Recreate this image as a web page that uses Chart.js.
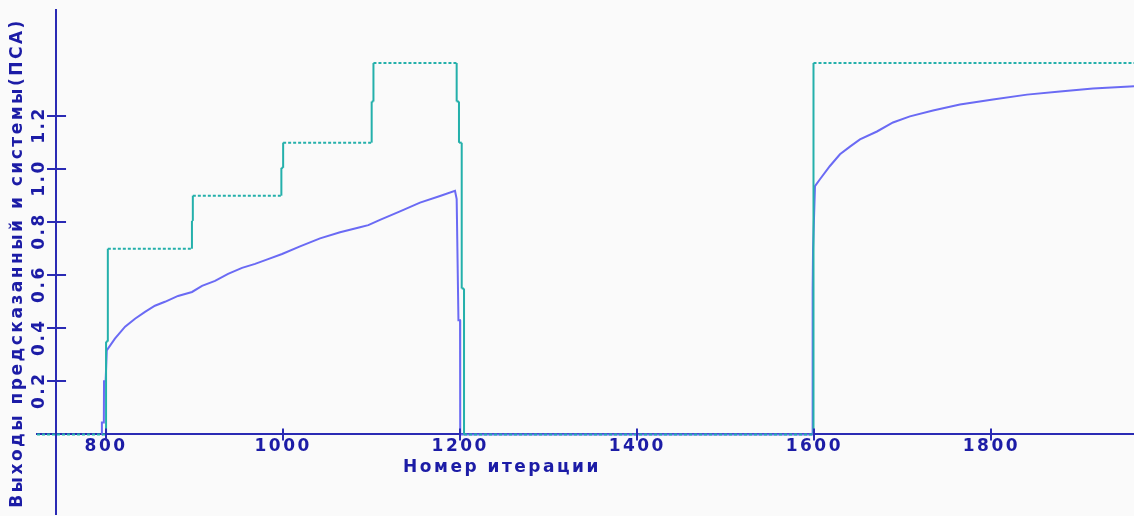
<!DOCTYPE html>
<html>
<head>
<meta charset="utf-8">
<script src="https://cdn.jsdelivr.net/npm/chart.js@4.4.0/dist/chart.umd.min.js"></script>
<style>
html, body { margin: 0; padding: 0; background: #fafafa; }
#wrap { width: 1134px; height: 516px; }
</style>
</head>
<body>
<div id="wrap"><canvas id="chart"></canvas></div>
<script>
// scale ranges
const xMin = 722, xMax = 1961;
const yMin = -0.3, yMax = 1.6;
const yAxisAt = 743.5;
const xTicks = [800, 1000, 1200, 1400, 1600, 1800];
const yTicks = [0.2, 0.4, 0.6, 0.8, 1.0, 1.2];

// выход системы (ПСА) - ступеньки
const targetX = [722, 800, 800, 802, 802, 897, 897, 898, 898, 998, 998, 1000, 1000, 1100, 1100, 1102, 1102,
  1196, 1196, 1198.6, 1198.6, 1201.7, 1201.7, 1204.3, 1204.3, 1599, 1599, 1961];
const targetY = [0, 0, 0.35, 0.35, 0.70, 0.70, 0.805, 0.805, 0.90, 0.90, 1.005, 1.005, 1.10, 1.10, 1.255, 1.255, 1.40,
  1.40, 1.255, 1.255, 1.10, 1.10, 0.55, 0.55, 0, 0, 1.40, 1.40];

// предсказанный выход
const predX = [795, 795.3, 797.5, 797.7, 799.5, 800.8, 810, 821.5, 832.7, 844, 855.2, 866.5, 881.3, 897.1, 908.4,
  923.1, 937.8, 953.6, 968.3, 983, 998.8, 1019.1, 1041.7, 1064.3, 1086.8, 1096.2, 1109.4, 1132, 1154.6, 1177.2,
  1194.1, 1196, 1198, 1199.8, 1200, 1597.5, 1597.8, 1598.3, 1598.5, 1600.7, 1606.3, 1617.6, 1628.9, 1640.2, 1651.5,
  1670.7, 1688.8, 1707.9, 1734, 1764.4, 1801.7, 1840.1, 1877.4, 1914.6, 1956.4, 1961];
const predY = [0, 0.045, 0.045, 0.20, 0.20, 0.317, 0.361, 0.406, 0.436, 0.462, 0.485, 0.500, 0.522, 0.537, 0.560,
  0.579, 0.605, 0.628, 0.643, 0.661, 0.680, 0.709, 0.739, 0.762, 0.781, 0.789, 0.809, 0.841, 0.874, 0.899,
  0.918, 0.887, 0.43, 0.43, 0, 0, 0.075, 0.54, 0.70, 0.936, 0.962, 1.012, 1.056, 1.085, 1.112,
  1.142, 1.176, 1.199, 1.221, 1.244, 1.263, 1.281, 1.293, 1.304, 1.312, 1.313];

const textColor = '#1c1ca6';
const axisColor = '#2a2ab4';
const baseFont = { family: 'DejaVu Sans', weight: 'bold', size: 17 };

function pairs(xs, ys) {
    return xs.map((x, i) => ({ x: x, y: ys[i] }));
}

// фон + разрядка букв как в старом шрифте
const backdrop = {
    id: 'backdrop',
    beforeDraw(chart) {
        const c = chart.ctx;
        c.save();
        c.fillStyle = '#fafafa';
        c.fillRect(0, 0, chart.width, chart.height);
        c.restore();
        c.letterSpacing = '2.5px';
    }
};

// риски, пересекающие оси
const crossTicks = {
    id: 'crossTicks',
    afterDatasetsDraw(chart) {
        const c = chart.ctx;
        const xs = chart.scales.x, ys = chart.scales.y;
        const x0 = xs.getPixelForValue(yAxisAt);
        const y0 = ys.getPixelForValue(0);
        c.save();
        c.strokeStyle = axisColor;
        c.lineWidth = 2;
        c.beginPath();
        xTicks.forEach(v => {
            const px = Math.round(xs.getPixelForValue(v));
            c.moveTo(px, y0 - 6);
            c.lineTo(px, y0 + 6);
        });
        yTicks.forEach(v => {
            const py = Math.round(ys.getPixelForValue(v));
            c.moveTo(x0 - 9, py);
            c.lineTo(x0 + 10, py);
        });
        c.stroke();
        c.restore();
    }
};

// подпись оси X
const xTitle = {
    id: 'xTitle',
    afterDraw(chart) {
        const c = chart.ctx;
        c.save();
        c.font = 'bold 17px "DejaVu Sans"';
        c.fillStyle = textColor;
        c.textAlign = 'center';
        c.textBaseline = 'middle';
        c.fillText('Номер итерации', 502, 468);
        c.restore();
    }
};

const ctx = document.getElementById('chart').getContext('2d');
new Chart(ctx, {
    type: 'line',
    data: {
        datasets: [{
            label: 'система (ПСА)',
            data: pairs(targetX, targetY),
            borderColor: '#24b0ab',
            borderWidth: 2,
            pointRadius: 0,
            tension: 0,
            segment: {
                borderDash: s => s.p0.parsed.y === s.p1.parsed.y ? [3, 2] : []
            }
        }, {
            label: 'предсказанный',
            data: pairs(predX, predY),
            borderColor: '#6a6af4',
            borderWidth: 2,
            pointRadius: 0,
            tension: 0
        }]
    },
    options: {
        animation: false,
        responsive: true,
        maintainAspectRatio: false,
        layout: { padding: { top: 10, left: 0, right: 0, bottom: 0 } },
        plugins: {
            legend: { display: false },
            tooltip: { enabled: false },
            title: {
                display: true,
                position: 'left',
                text: 'Выходы предсказанный и системы(ПСА)',
                color: textColor,
                font: Object.assign({ lineHeight: 1.2 }, baseFont),
                padding: { top: 7.5, bottom: 9.1 }
            }
        },
        scales: {
            x: {
                type: 'linear',
                min: xMin,
                max: xMax,
                position: { y: 0 },
                grid: { display: false, drawTicks: false },
                border: { color: axisColor, width: 2 },
                afterBuildTicks: s => { s.ticks = xTicks.map(v => ({ value: v })); },
                ticks: {
                    color: textColor,
                    font: baseFont,
                    padding: 2,
                    maxRotation: 0,
                    autoSkip: false,
                    callback: v => String(v)
                }
            },
            y: {
                type: 'linear',
                min: yMin,
                max: yMax,
                position: { x: yAxisAt },
                grid: { display: false, drawTicks: false },
                border: { color: axisColor, width: 2 },
                afterBuildTicks: s => { s.ticks = yTicks.map(v => ({ value: v })); },
                ticks: {
                    color: textColor,
                    font: Object.assign({ lineHeight: '32px' }, baseFont),
                    minRotation: 90,
                    maxRotation: 90,
                    labelOffset: -10,
                    padding: -30,
                    autoSkip: false,
                    callback: v => [v.toFixed(1), '']
                }
            }
        }
    },
    plugins: [backdrop, crossTicks, xTitle]
});
</script>
</body>
</html>
